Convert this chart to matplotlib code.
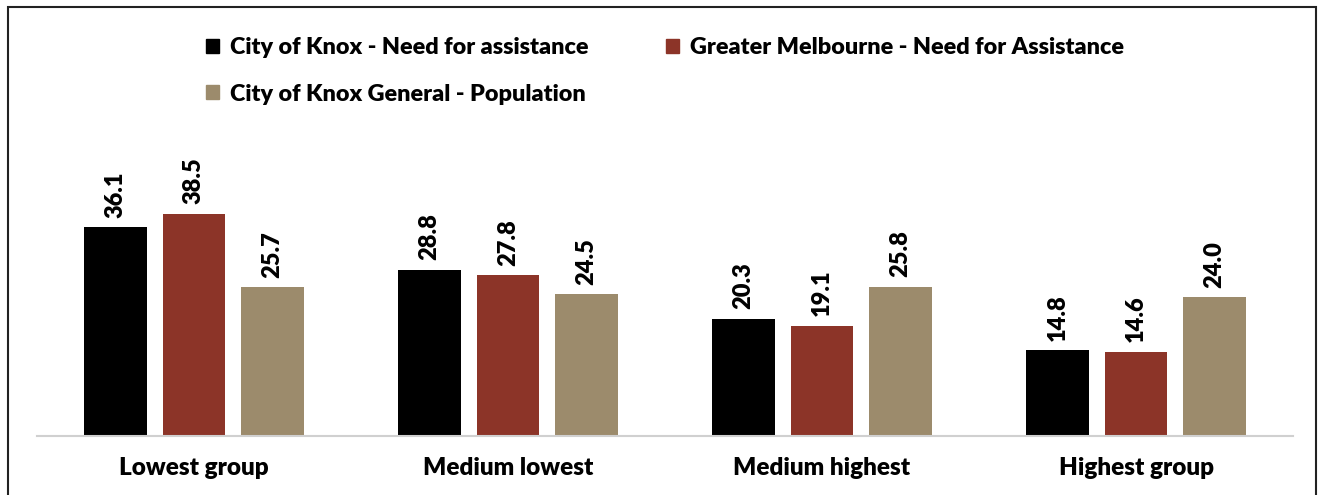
import matplotlib
matplotlib.use("Agg")
import matplotlib.pyplot as plt
import numpy as np
from matplotlib.patches import Rectangle, Patch

categories = ["Lowest group", "Medium lowest", "Medium highest", "Highest group"]
series_names = [
    "City of Knox - Need for assistance",
    "Greater Melbourne - Need for Assistance",
    "City of Knox General - Population",
]
knox_need = [36.1, 28.8, 20.3, 14.8]
melb_need = [38.5, 27.8, 19.1, 14.6]
knox_pop = [25.7, 24.5, 25.8, 24.0]

colors = ["#000000", "#8C3428", "#9C8B6C"]
font = "Lato"
weight = "heavy"

fig = plt.figure(figsize=(13.24, 4.95), dpi=100)
ax = fig.add_axes([0.0279, 0.1192, 0.9487, 0.5253])

x = np.arange(len(categories))
width = 0.198
pitch = 0.25
for i, (vals, c) in enumerate(zip([knox_need, melb_need, knox_pop], colors)):
    pos = x + (i - 1) * pitch
    bars = ax.bar(pos, vals, width=width, color=c, zorder=2)
    for b, v in zip(bars, vals):
        ax.annotate(f"{v:.1f}", (b.get_x() + b.get_width() / 2, v),
                    xytext=(0, 7), textcoords="offset points",
                    rotation=90, ha="center", va="bottom",
                    fontsize=17, fontweight=weight, family=font)

ax.set_xlim(-0.5, 3.5)
ax.set_ylim(0, 45)
ax.set_yticks([])
ax.set_xticks(x)
ax.set_xticklabels(categories, fontsize=17.5, fontweight=weight, family=font)
ax.tick_params(axis="x", length=0, pad=15)
for s in ["top", "right", "left"]:
    ax.spines[s].set_visible(False)
ax.spines["bottom"].set_color("#d0d0d0")
ax.spines["bottom"].set_linewidth(1.5)

handles = [Patch(color=c) for c in colors]
order = [0, 2, 1]
fig.legend([handles[i] for i in order], [series_names[i] for i in order],
           ncol=2, loc="upper left", bbox_to_anchor=(0.14, 0.968),
           frameon=False, handlelength=0.55, handleheight=0.55,
           handletextpad=0.45, columnspacing=3.35, labelspacing=1.1,
           prop={"family": font, "weight": weight, "size": 16.8})

fig.patches.append(Rectangle((8 / 1324, -0.05), (1316 - 8) / 1324, 1.05 - 7 / 495,
                             transform=fig.transFigure, fill=False,
                             edgecolor="#222222", linewidth=1.5))

fig.savefig("out.png", dpi=100)
